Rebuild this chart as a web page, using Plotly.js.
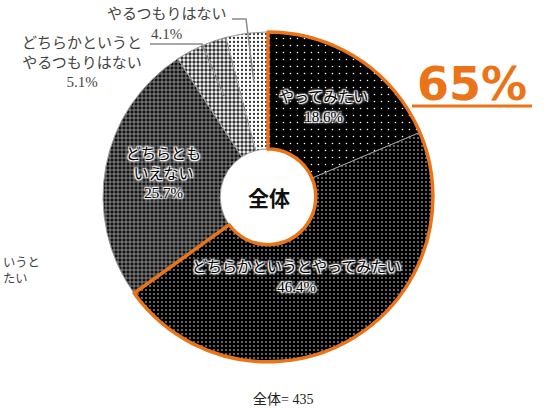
<!DOCTYPE html>
<html>
<head>
<meta charset="utf-8">
<script src="https://cdn.plot.ly/plotly-3.0.1.min.js"></script>
<style>html,body{margin:0;padding:0;background:#fff;}#chart{width:548px;height:408px;}</style>
</head>
<body>
<div id="chart"></div>
<script>
// ---- data ----
const categories = ['やってみたい','どちらかというとやってみたい','どちらともいえない','どちらかというとやるつもりはない','やるつもりはない'];
const displayLabels = ['やってみたい','どちらかというとやってみたい','どちらとも<br>いえない','どちらかというと<br>やるつもりはない','やるつもりはない'];
const values = [18.6, 46.4, 25.7, 5.1, 4.1];
const totalLabel = '全体= 435';
const centerLabel = '全体';
const highlightText = '65%';
const cutOffLines = ['いうと', 'たい'];

const JP = '"Liberation Serif", "Noto Sans CJK JP", serif';
const JPB = '"Noto Sans CJK JP", "Noto Sans", sans-serif';
const ORANGE = '#EB7419';
const HALO = '1px 1px 1px #fff, -1px -1px 1px #fff, 1px -1px 1px #fff, -1px 1px 1px #fff, 0 0 3px #fff, 0 0 4px #fff';

const patterns = [
  {shape: '.', bgcolor: '#000', fgcolor: '#fff', size: 7, solidity: 0.04},
  {shape: '.', bgcolor: '#000', fgcolor: '#fff', size: 4, solidity: 0.1},
  {shape: '+', bgcolor: '#111', fgcolor: '#aaa', size: 4, solidity: 0.35},
  {shape: '.', bgcolor: '#fff', fgcolor: '#333', size: 4, solidity: 0.55},
  {shape: '.', bgcolor: '#fff', fgcolor: '#333', size: 4, solidity: 0.25}
];

const domain = {x: [0.188, 0.790], y: [0.113, 0.922]};

const base = {
  type: 'pie',
  labels: categories,
  values: values,
  sort: false,
  direction: 'clockwise',
  rotation: 0,
  hole: 0.29,
  domain: domain,
  textinfo: 'none',
  marker: {
    colors: patterns.map(p => p.bgcolor),
    pattern: {
      shape: patterns.map(p => p.shape),
      bgcolor: patterns.map(p => p.bgcolor),
      fgcolor: patterns.map(p => p.fgcolor),
      size: patterns.map(p => p.size),
      solidity: patterns.map(p => p.solidity),
      fillmode: 'replace'
    },
    line: {color: '#9a9a9a', width: 1}
  },
  showlegend: false,
  hoverinfo: 'label+value'
};

const positive = values[0] + values[1];
const rest = values.slice(2).reduce((a, b) => a + b, 0);
const overlay = {
  type: 'pie',
  values: [positive, rest],
  labels: ['pos', 'rest'],
  sort: false,
  direction: 'clockwise',
  rotation: 0,
  hole: 0.29,
  domain: domain,
  textinfo: 'none',
  hoverinfo: 'skip',
  marker: {colors: ['rgba(0,0,0,0)', 'rgba(0,0,0,0)'],
           line: {color: [ORANGE, 'rgba(0,0,0,0)'], width: 3.5}},
  showlegend: false
};

const pct = v => v.toFixed(1) + '%';
const inFont = {family: JP, size: 15, color: '#000', shadow: HALO};
const small = {family: JP, size: 15, color: '#444'};
const cutFont = {family: JP, size: 12.3, color: '#444'};
const annotations = [
  // labels inside the large slices
  {text: displayLabels[0] + '<br>' + pct(values[0]), x: 323, y: 107, font: inFont},
  {text: displayLabels[1] + '<br>' + pct(values[1]), x: 296, y: 277, font: inFont},
  {text: displayLabels[2] + '<br>' + pct(values[2]), x: 163, y: 173, font: inFont},
  // small-slice labels
  {text: displayLabels[3] + '<br>' + pct(values[3]), x: 82, y: 62, font: small},
  {text: displayLabels[4] + '<br>' + pct(values[4]), x: 166, y: 24, font: small},
  {text: '<b>' + centerLabel + '</b>', x: 269, y: 197, font: {family: JPB, size: 21, color: '#111'}},
  {text: '<b>' + highlightText + '</b>', x: 472, y: 84, font: {family: '"DejaVu Sans", Verdana, sans-serif', size: 46, color: ORANGE}},
  {text: totalLabel, x: 283, y: 399, font: {family: JP, size: 14, color: '#222'}},
  // neighbouring chart label, only its visible part
  {text: cutOffLines[0], x: 0.5, y: 263, font: cutFont, xanchor: 'left'},
  {text: cutOffLines[1], x: 0.5, y: 279, font: cutFont, xanchor: 'left'}
].map(a => Object.assign({
  xref: 'paper', yref: 'paper', showarrow: false,
  xanchor: 'center', yanchor: 'middle', align: 'center'
}, a, {x: a.x / 548, y: 1 - a.y / 408}));

const P = (x, y) => (x / 548) + ' ' + (1 - y / 408);
const shapes = [
  {type: 'path', path: 'M' + P(150, 44) + ' L' + P(202, 44) + ' L' + P(224, 96),
   xref: 'paper', yref: 'paper', line: {color: '#8a8a8a', width: 1.5}},
  {type: 'path', path: 'M' + P(232, 19) + ' L' + P(246, 19) + ' L' + P(254, 83),
   xref: 'paper', yref: 'paper', line: {color: '#8a8a8a', width: 1.5}},
  {type: 'line', xref: 'paper', yref: 'paper', x0: 412 / 548, x1: 532 / 548, y0: 1 - 106 / 408, y1: 1 - 106 / 408,
   line: {color: ORANGE, width: 3}}
];

const layout = {
  width: 548, height: 408,
  margin: {l: 0, r: 0, t: 0, b: 0},
  paper_bgcolor: '#fff',
  plot_bgcolor: '#fff',
  showlegend: false,
  annotations: annotations,
  shapes: shapes
};

Plotly.newPlot('chart', [base, overlay], layout, {displayModeBar: false, staticPlot: true});
</script>
</body>
</html>
